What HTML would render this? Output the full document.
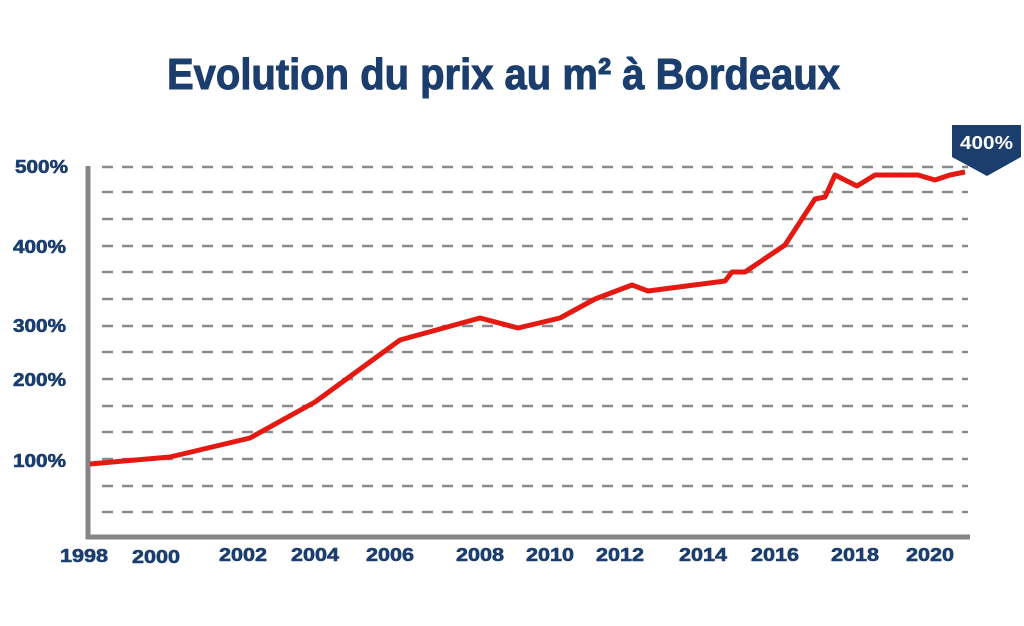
<!DOCTYPE html>
<html><head><meta charset="utf-8"><style>
html,body{margin:0;padding:0;background:#fff;}
svg{display:block;}
text{font-family:"Liberation Sans",sans-serif;font-weight:bold;fill:#1b3e6e;}
</style></head><body>
<svg width="1024" height="626" viewBox="0 0 1024 626" xmlns="http://www.w3.org/2000/svg">
<text x="167" y="89" font-size="44" textLength="673" lengthAdjust="spacingAndGlyphs" stroke="#1b3e6e" stroke-width="1">Evolution du prix au m² à Bordeaux</text>
<g stroke="#8a8a8a" stroke-width="2.5" stroke-dasharray="11,9">
<line x1="102" y1="167" x2="968" y2="167"/>
<line x1="102" y1="192" x2="968" y2="192"/>
<line x1="102" y1="219" x2="968" y2="219"/>
<line x1="102" y1="246" x2="968" y2="246"/>
<line x1="102" y1="272" x2="968" y2="272"/>
<line x1="102" y1="299" x2="968" y2="299"/>
<line x1="102" y1="326" x2="968" y2="326"/>
<line x1="102" y1="352" x2="968" y2="352"/>
<line x1="102" y1="379" x2="968" y2="379"/>
<line x1="102" y1="406" x2="968" y2="406"/>
<line x1="102" y1="432" x2="968" y2="432"/>
<line x1="102" y1="459" x2="968" y2="459"/>
<line x1="102" y1="486" x2="968" y2="486"/>
<line x1="102" y1="512" x2="968" y2="512"/>
</g>
<g stroke="#858585" stroke-width="5">
<line x1="88" y1="166" x2="88" y2="539"/>
<line x1="86" y1="537" x2="970" y2="537"/>
</g>
<polyline fill="none" stroke="#e41a12" stroke-width="5" stroke-linejoin="round" points="90,464 170,457 250,438 315,402 400,340 480,318 518,328 560,318 595,299 632,285 648,291 725,281 732,272 745,272 785,245 815,199 825,197 835,175 857,186 875,175 918,175 935,180 950,175 965,172"/>
<polygon points="952,125 1021,125 1021,157 987,176 952,157" fill="#1b3e6e"/>
<text x="960" y="149" font-size="18" textLength="53" lengthAdjust="spacingAndGlyphs" style="fill:#fff">400%</text>
<g font-size="18" stroke="#1b3e6e" stroke-width="0.6">
<text x="15" y="173" textLength="53" lengthAdjust="spacingAndGlyphs">500%</text>
<text x="13" y="253" textLength="53" lengthAdjust="spacingAndGlyphs">400%</text>
<text x="13" y="332" textLength="53" lengthAdjust="spacingAndGlyphs">300%</text>
<text x="13" y="386" textLength="53" lengthAdjust="spacingAndGlyphs">200%</text>
<text x="13" y="467" textLength="53" lengthAdjust="spacingAndGlyphs">100%</text>
</g>
<g font-size="18" stroke="#1b3e6e" stroke-width="0.6">
<text x="60" y="562" textLength="48" lengthAdjust="spacingAndGlyphs">1998</text>
<text x="132" y="563" textLength="48" lengthAdjust="spacingAndGlyphs">2000</text>
<text x="219" y="561" textLength="48" lengthAdjust="spacingAndGlyphs">2002</text>
<text x="291" y="561" textLength="48" lengthAdjust="spacingAndGlyphs">2004</text>
<text x="366" y="561" textLength="48" lengthAdjust="spacingAndGlyphs">2006</text>
<text x="456" y="561" textLength="48" lengthAdjust="spacingAndGlyphs">2008</text>
<text x="526" y="561" textLength="48" lengthAdjust="spacingAndGlyphs">2010</text>
<text x="596" y="561" textLength="48" lengthAdjust="spacingAndGlyphs">2012</text>
<text x="679" y="561" textLength="48" lengthAdjust="spacingAndGlyphs">2014</text>
<text x="751" y="561" textLength="48" lengthAdjust="spacingAndGlyphs">2016</text>
<text x="831" y="561" textLength="48" lengthAdjust="spacingAndGlyphs">2018</text>
<text x="906" y="561" textLength="48" lengthAdjust="spacingAndGlyphs">2020</text>
</g>
</svg>
</body></html>
